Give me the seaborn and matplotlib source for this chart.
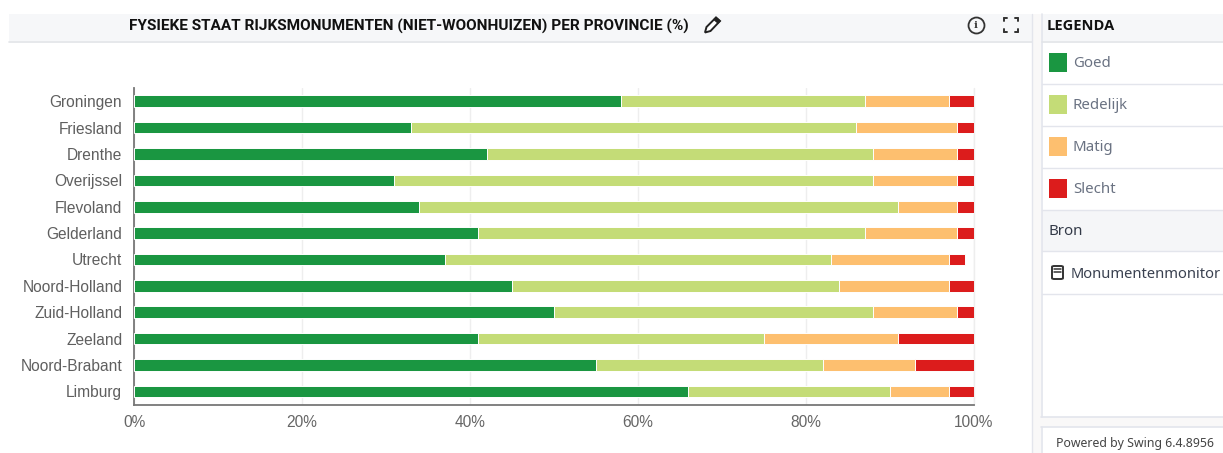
import matplotlib
matplotlib.use("Agg")
import matplotlib.pyplot as plt
import seaborn as sns
import numpy as np
import pandas as pd
from matplotlib.patches import Rectangle, Polygon, FancyBboxPatch
from matplotlib.lines import Line2D

provinces = ["Groningen", "Friesland", "Drenthe", "Overijssel", "Flevoland", "Gelderland",
             "Utrecht", "Noord-Holland", "Zuid-Holland", "Zeeland", "Noord-Brabant", "Limburg"]
goed     = [58, 33, 42, 31, 34, 41, 37, 45, 50, 41, 55, 66]
redelijk = [29, 53, 46, 57, 57, 46, 46, 39, 38, 34, 27, 24]
matig    = [10, 12, 10, 10,  7, 11, 14, 13, 10, 16, 11,  7]
slecht   = [ 3,  2,  2,  2,  2,  2,  2,  3,  2,  9,  7,  3]
series_names = ["Goed", "Redelijk", "Matig", "Slecht"]
series_colors = ["#1a9641", "#c4dc77", "#fdbf6f", "#dc1c1c"]
x_ticks = [0, 20, 40, 60, 80, 100]
title = "FYSIEKE STAAT RIJKSMONUMENTEN (NIET-WOONHUIZEN) PER PROVINCIE (%)"

W, H = 1223, 453
sns.set_theme(style="white")
fig = plt.figure(figsize=(W / 100, H / 100), dpi=100, facecolor="white")

def fx(x): return x / W
def fy(y): return 1 - y / H

def box(x0, y0, x1, y1, color, z=0):
    fig.add_artist(Rectangle((fx(x0), fy(y1)), (x1 - x0) / W, (y1 - y0) / H, transform=fig.transFigure,
                             facecolor=color, edgecolor="none", zorder=z))

def hline(x0, x1, y, color="#e3e5ec", lw=1.0):
    fig.add_artist(Line2D([fx(x0), fx(x1)], [fy(y), fy(y)], transform=fig.transFigure, color=color, lw=lw, zorder=2))

def vline(x, y0, y1, color="#e3e5ec", lw=1.0):
    fig.add_artist(Line2D([fx(x), fx(x)], [fy(y0), fy(y1)], transform=fig.transFigure, color=color, lw=lw, zorder=2))

def label(x, y, s, **kw):
    fig.text(fx(x), fy(y), s, va="center", ha=kw.pop("ha", "left"), zorder=5, **kw)

# page chrome
box(9, 14, 1032, 41, "#f6f7f9")
hline(9, 1032, 41.5, "#e2e4e8", 1.2)
box(1032, 14, 1041, 453, "#f9f8f8")
vline(1032, 14, 453, "#e3e5ec")
vline(1041.5, 14, 417, "#e3e5ec", 1.2)
box(1042, 14, 1223, 41, "#f6f7f9")
hline(1042, 1223, 41.5, "#e2e4e8", 1.2)
for yy in [83.5, 125.5, 167.5, 209.5, 251.5, 293.5]:
    hline(1042, 1223, yy)
box(1042, 210, 1223, 251, "#f5f6f8")
box(1032, 417, 1223, 427, "#f9f8f8")
hline(1041, 1223, 417, "#e3e5ec", 1.2)
hline(1041, 1223, 427, "#e3e5ec", 1.2)
vline(1041.5, 427, 453, "#e3e5ec", 1.2)

# chart
ax = fig.add_axes([fx(134), fy(404.6), (973.7 - 134) / W, (404.6 - 88) / H])
df = pd.DataFrame({"Provincie": provinces, "Goed": goed, "Redelijk": redelijk, "Matig": matig, "Slecht": slecht})
left = np.zeros(len(provinces))
for name, col in zip(series_names, series_colors):
    sns.barplot(data=df, y="Provincie", x=name, color=col, left=left, ax=ax, orient="y", width=0.44,
                saturation=1, edgecolor="white", linewidth=0.7, zorder=3)
    left = left + df[name].to_numpy()

ax.set_xlim(0, 100)
ax.set_ylim(11.5, -0.5)
ax.set_xlabel("")
ax.set_ylabel("")
ax.set_xticks(x_ticks)
ax.set_xticklabels([f"{t}%" for t in x_ticks], family="Liberation Sans", fontsize=11.2, color="#666666")
ax.set_yticks(range(len(provinces)))
ax.set_yticklabels(provinces, family="Liberation Sans", fontsize=11.2, color="#5f5f5f")
ax.tick_params(axis="both", length=0)
ax.tick_params(axis="x", pad=7.5)
ax.tick_params(axis="y", pad=8.5)
ax.xaxis.grid(True, color="#eeeeee", lw=1, zorder=0)
ax.set_axisbelow(True)
for s in ["top", "right"]:
    ax.spines[s].set_visible(False)
for s in ["left", "bottom"]:
    ax.spines[s].set_color("#777777")
    ax.spines[s].set_linewidth(1.3)
ax.add_line(Line2D([1, 1], [0, 1], transform=ax.transAxes, color="#eeeeee", lw=1, zorder=1, clip_on=False))

# header texts
label(129, 26.5, title, family="Roboto", fontweight="bold", fontsize=11.1, color="#111111")

# pencil icon
fig.add_artist(Polygon([(fx(x), fy(y)) for x, y in [(705, 32.5), (706.5, 27), (716, 17.5), (720, 21), (710.5, 31)]],
                       closed=True, transform=fig.transFigure, facecolor="white", edgecolor="#222222", lw=1.4, zorder=5))
fig.add_artist(Polygon([(fx(x), fy(y)) for x, y in [(714, 19.5), (716, 17.5), (720, 21), (718, 23)]],
                       closed=True, transform=fig.transFigure, facecolor="#222222", edgecolor="#222222", lw=1, zorder=6))

# info icon
fig.add_artist(Line2D([fx(976)], [fy(24.5)], transform=fig.transFigure, marker="o", ms=11.5, mfc="none", mec="#333333", mew=1.3, zorder=5))
label(976, 25, "i", family="DejaVu Serif", fontweight="bold", fontsize=7.5, color="#333333", ha="center")

# fullscreen icon
for sx, sy in [(-1, -1), (1, -1), (-1, 1), (1, 1)]:
    cx, cy = 1010.5 + sx * 7, 24.5 + sy * 7
    hline(cx, cx - sx * 3, cy, "#333333", 1.4)
    vline(cx, cy, cy - sy * 3, "#333333", 1.4)

label(1047, 26, "LEGENDA", family="Open Sans", fontweight="bold", fontsize=10.5, color="#111111")

# legend
for name, col, yy in zip(series_names, series_colors, [62, 104, 146, 188]):
    box(1048.5, yy - 9.5, 1067, yy + 9.5, col, z=3)
    label(1073, yy + 1.5, name, family="Noto Sans", fontsize=10.8, color="#6a7282")
label(1048, 232, "Bron", family="Noto Sans", fontsize=10.8, color="#333a48")
fig.add_artist(FancyBboxPatch((fx(1052), fy(279)), 11 / W, 13 / H, boxstyle="round,pad=0,rounding_size=0.002",
                              transform=fig.transFigure, facecolor="none", edgecolor="#333333", lw=1.4, zorder=5))
hline(1054, 1061, 269, "#333333", 1.1)
hline(1054, 1061, 272, "#333333", 1.1)
label(1071, 274, "Monumentenmonitor", family="Noto Sans", fontsize=10.6, color="#3a4150")
label(1056, 443.5, "Powered by Swing 6.4.8956", family="Noto Sans", fontsize=8.85, color="#444444")

fig.savefig("out.png", dpi=100)
